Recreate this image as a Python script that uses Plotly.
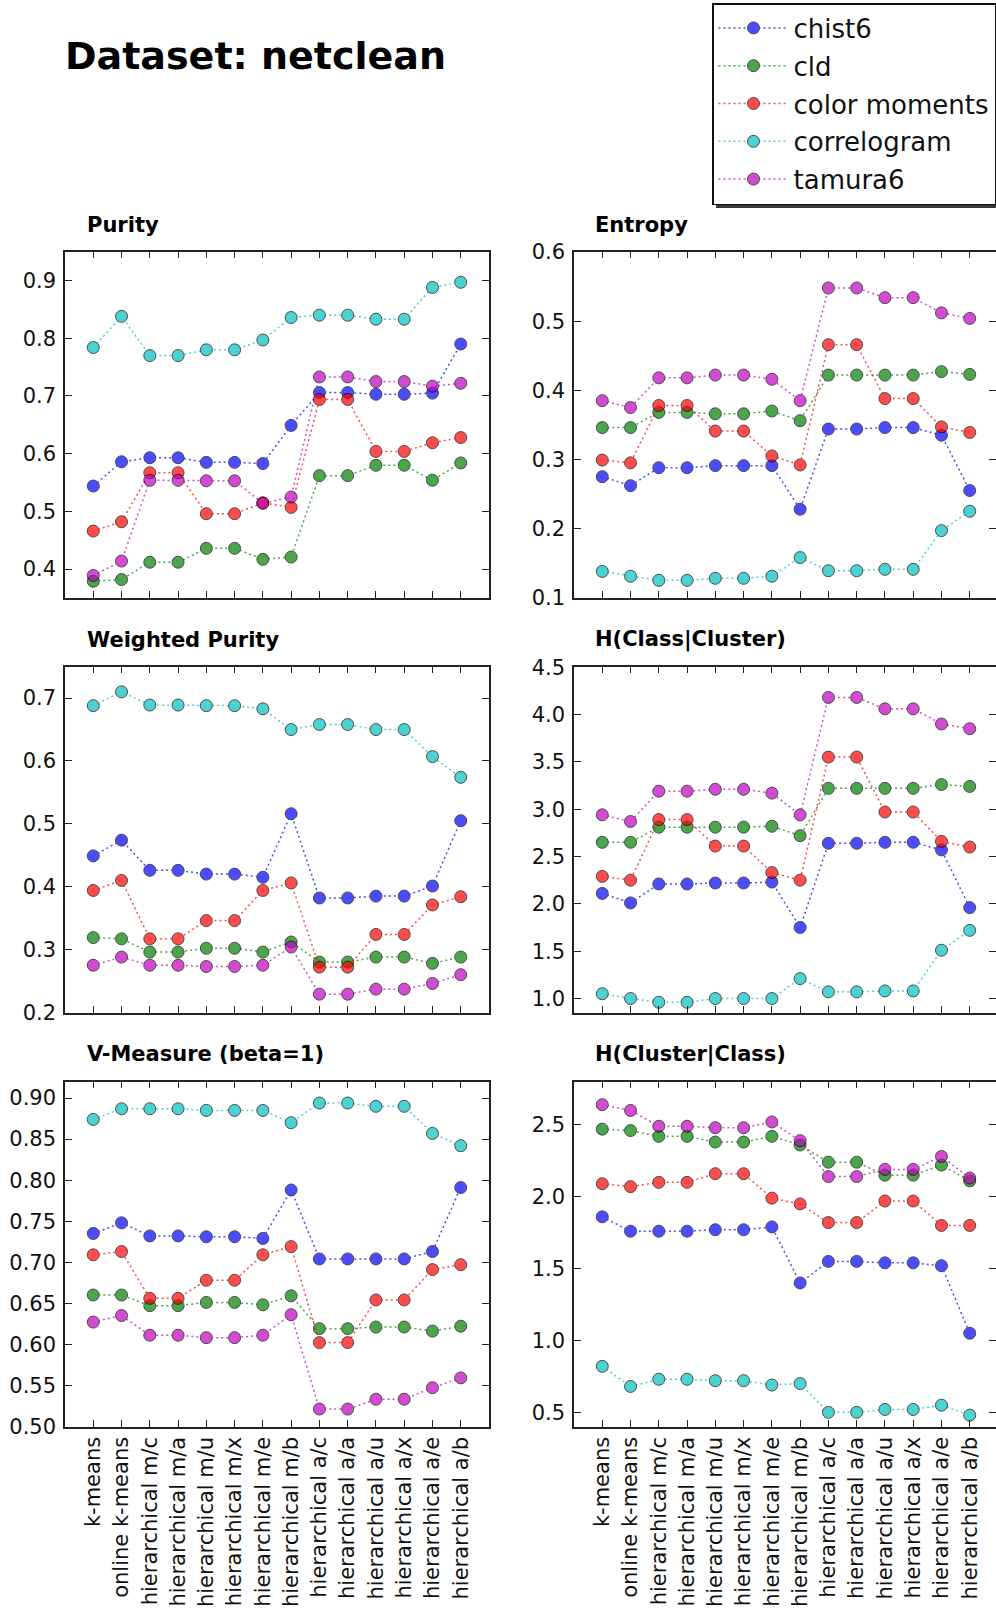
import plotly.graph_objects as go

W, H = 996, 1609

categories = ["k-means", "online k-means", "hierarchical m/c", "hierarchical m/a",
              "hierarchical m/u", "hierarchical m/x", "hierarchical m/e", "hierarchical m/b",
              "hierarchical a/c", "hierarchical a/a", "hierarchical a/u", "hierarchical a/x",
              "hierarchical a/e", "hierarchical a/b"]

series_names = ["chist6", "cld", "color moments", "correlogram", "tamura6"]
series_colors = ["#0000ff", "#008000", "#ff0000", "#00bfbf", "#bf00bf"]

# Purity
purity_chist6 = [0.544, 0.586, 0.593, 0.593, 0.585, 0.585, 0.583, 0.649, 0.706, 0.706, 0.703, 0.703, 0.705, 0.790]
purity_cld = [0.379, 0.382, 0.412, 0.412, 0.436, 0.436, 0.417, 0.421, 0.562, 0.562, 0.580, 0.580, 0.554, 0.584]
purity_colormoments = [0.466, 0.482, 0.567, 0.567, 0.496, 0.496, 0.515, 0.507, 0.694, 0.694, 0.604, 0.604, 0.619, 0.628]
purity_correlogram = [0.784, 0.838, 0.770, 0.770, 0.780, 0.780, 0.797, 0.836, 0.840, 0.840, 0.833, 0.833, 0.888, 0.897]
purity_tamura6 = [0.389, 0.414, 0.554, 0.554, 0.553, 0.553, 0.514, 0.525, 0.733, 0.733, 0.725, 0.725, 0.717, 0.722]

# Entropy
entropy_chist6 = [0.275, 0.262, 0.288, 0.288, 0.291, 0.291, 0.291, 0.228, 0.344, 0.344, 0.346, 0.346, 0.335, 0.255]
entropy_cld = [0.346, 0.346, 0.368, 0.368, 0.366, 0.366, 0.370, 0.356, 0.422, 0.422, 0.422, 0.422, 0.427, 0.423]
entropy_colormoments = [0.299, 0.295, 0.378, 0.378, 0.341, 0.341, 0.305, 0.292, 0.466, 0.466, 0.388, 0.388, 0.347, 0.339]
entropy_correlogram = [0.138, 0.131, 0.125, 0.125, 0.128, 0.128, 0.131, 0.158, 0.139, 0.139, 0.141, 0.141, 0.197, 0.225]
entropy_tamura6 = [0.385, 0.375, 0.418, 0.418, 0.422, 0.422, 0.416, 0.385, 0.548, 0.548, 0.534, 0.534, 0.512, 0.504]

# Weighted Purity
wpurity_chist6 = [0.449, 0.474, 0.426, 0.426, 0.420, 0.420, 0.415, 0.516, 0.382, 0.382, 0.385, 0.385, 0.401, 0.505]
wpurity_cld = [0.319, 0.317, 0.296, 0.296, 0.302, 0.302, 0.296, 0.312, 0.280, 0.280, 0.288, 0.288, 0.278, 0.288]
wpurity_colormoments = [0.394, 0.410, 0.317, 0.317, 0.346, 0.346, 0.394, 0.406, 0.272, 0.272, 0.324, 0.324, 0.371, 0.384]
wpurity_correlogram = [0.688, 0.710, 0.689, 0.689, 0.688, 0.688, 0.683, 0.650, 0.658, 0.658, 0.650, 0.650, 0.607, 0.574]
wpurity_tamura6 = [0.275, 0.288, 0.275, 0.275, 0.273, 0.273, 0.275, 0.304, 0.229, 0.229, 0.237, 0.237, 0.246, 0.260]

# H(Class|Cluster)
hcc_chist6 = [2.11, 2.01, 2.21, 2.21, 2.22, 2.22, 2.23, 1.75, 2.64, 2.64, 2.65, 2.65, 2.57, 1.96]
hcc_cld = [2.65, 2.65, 2.81, 2.81, 2.81, 2.81, 2.82, 2.72, 3.22, 3.22, 3.22, 3.22, 3.26, 3.24]
hcc_colormoments = [2.29, 2.25, 2.89, 2.89, 2.61, 2.61, 2.33, 2.25, 3.55, 3.55, 2.97, 2.97, 2.66, 2.60]
hcc_correlogram = [1.05, 1.00, 0.96, 0.96, 1.00, 1.00, 1.00, 1.21, 1.07, 1.07, 1.08, 1.08, 1.51, 1.72]
hcc_tamura6 = [2.94, 2.87, 3.19, 3.19, 3.21, 3.21, 3.17, 2.94, 4.18, 4.18, 4.06, 4.06, 3.90, 3.85]

# V-Measure (beta=1)
vm_chist6 = [0.735, 0.748, 0.732, 0.732, 0.731, 0.731, 0.729, 0.788, 0.704, 0.704, 0.704, 0.704, 0.713, 0.791]
vm_cld = [0.660, 0.660, 0.647, 0.647, 0.651, 0.651, 0.648, 0.659, 0.619, 0.619, 0.621, 0.621, 0.616, 0.622]
vm_colormoments = [0.709, 0.713, 0.656, 0.656, 0.678, 0.678, 0.709, 0.719, 0.602, 0.602, 0.654, 0.654, 0.691, 0.697]
vm_correlogram = [0.874, 0.887, 0.887, 0.887, 0.885, 0.885, 0.885, 0.870, 0.894, 0.894, 0.890, 0.890, 0.857, 0.842]
vm_tamura6 = [0.627, 0.635, 0.611, 0.611, 0.608, 0.608, 0.611, 0.636, 0.521, 0.521, 0.533, 0.533, 0.547, 0.559]

# H(Cluster|Class)
hcl_chist6 = [1.86, 1.76, 1.76, 1.76, 1.77, 1.77, 1.79, 1.40, 1.55, 1.55, 1.54, 1.54, 1.52, 1.05]
hcl_cld = [2.47, 2.46, 2.42, 2.42, 2.38, 2.38, 2.42, 2.36, 2.24, 2.24, 2.15, 2.15, 2.22, 2.11]
hcl_colormoments = [2.09, 2.07, 2.10, 2.10, 2.16, 2.16, 1.99, 1.95, 1.82, 1.82, 1.97, 1.97, 1.80, 1.80]
hcl_correlogram = [0.82, 0.68, 0.73, 0.73, 0.72, 0.72, 0.69, 0.70, 0.50, 0.50, 0.52, 0.52, 0.55, 0.48]
hcl_tamura6 = [2.64, 2.60, 2.49, 2.49, 2.48, 2.48, 2.52, 2.39, 2.14, 2.14, 2.19, 2.19, 2.28, 2.13]

panels = [
    ("Purity", [purity_chist6, purity_cld, purity_colormoments, purity_correlogram, purity_tamura6],
     [0.35, 0.95], 0.1, ".1f"),
    ("Entropy", [entropy_chist6, entropy_cld, entropy_colormoments, entropy_correlogram, entropy_tamura6],
     [0.0995, 0.6005], 0.1, ".1f"),
    ("Weighted Purity", [wpurity_chist6, wpurity_cld, wpurity_colormoments, wpurity_correlogram, wpurity_tamura6],
     [0.1995, 0.75], 0.1, ".1f"),
    ("H(Class|Cluster)", [hcc_chist6, hcc_cld, hcc_colormoments, hcc_correlogram, hcc_tamura6],
     [0.85, 4.505], 0.5, ".1f"),
    ("V-Measure (beta=1)", [vm_chist6, vm_cld, vm_colormoments, vm_correlogram, vm_tamura6],
     [0.4995, 0.92], 0.05, ".2f"),
    ("H(Cluster|Class)", [hcl_chist6, hcl_cld, hcl_colormoments, hcl_correlogram, hcl_tamura6],
     [0.4, 2.8], 0.5, ".1f"),
]

# layout geometry (pixels)
col_x = [(65, 489), (574, 996)]
row_y = [(251.7, 598), (666.7, 1012.7), (1081.7, 1426.7)]
px_per_cat = (489 - 65) / 15.0

fig = go.Figure()
FONT = "DejaVu Sans"
annotations = []

for i, (title, series, yrange, dtick, fmt) in enumerate(panels):
    r, c = divmod(i, 2)
    n = i + 1
    xa = "x" if n == 1 else f"x{n}"
    ya = "y" if n == 1 else f"y{n}"
    for s_idx, vals in enumerate(series):
        fig.add_trace(go.Scatter(
            x=list(range(len(categories))), y=vals,
            xaxis=xa, yaxis=ya,
            name=series_names[s_idx],
            legendgroup=series_names[s_idx],
            showlegend=(i == 0),
            mode="lines+markers",
            opacity=0.7,
            line=dict(color=series_colors[s_idx], width=1.5, dash="2px,3px"),
            marker=dict(size=12, color=series_colors[s_idx],
                        line=dict(color="#000000", width=1)),
        ))
    x0, x1 = col_x[c]
    y0, y1 = row_y[r]
    xmax = -1 + (x1 - x0) / px_per_cat
    xkey = "xaxis" if n == 1 else f"xaxis{n}"
    ykey = "yaxis" if n == 1 else f"yaxis{n}"
    fig.layout[xkey] = dict(
        domain=[x0 / W, x1 / W], anchor=ya, range=[-1, xmax], automargin=False,
        tickmode="array", tickvals=list(range(len(categories))), ticktext=categories,
        showticklabels=(r == 2), tickangle=-90,
        ticks="inside", ticklen=7, tickwidth=1, tickcolor="#222",
        showline=True, linecolor="#222", linewidth=1.5, mirror="ticks",
        showgrid=False, zeroline=False,
        tickfont=dict(family=FONT, size=21, color="#111"),
    )
    fig.layout[ykey] = dict(
        domain=[1 - y1 / H, 1 - y0 / H], anchor=xa, range=yrange, automargin=False,
        tick0=0, dtick=dtick, tickformat=fmt,
        ticks="inside", ticklen=7, tickwidth=1, tickcolor="#222",
        showline=True, linecolor="#222", linewidth=1.5, mirror="ticks",
        showgrid=False, zeroline=False, ticklabelstandoff=3,
        tickfont=dict(family=FONT, size=21, color="#111"),
    )
    tx = 85 if c == 0 else 593
    ty = [225, 640, 1054][r]
    annotations.append(dict(
        text=f"<b>{title}</b>", xref="paper", yref="paper",
        x=tx / W, y=1 - ty / H, xanchor="left", yanchor="middle",
        showarrow=False, font=dict(family=FONT, size=21, color="#000"),
    ))

annotations.append(dict(
    text="<b>Dataset: netclean</b>", xref="paper", yref="paper",
    x=63 / W, y=1 - 56 / H, xanchor="left", yanchor="middle",
    showarrow=False, font=dict(family=FONT, size=38, color="#000"),
))

# legend drop shadow
shapes = [dict(type="rect", xref="paper", yref="paper", layer="below",
               x0=716 / W, x1=1.0, y0=1 - 208 / H, y1=1 - 8 / H,
               fillcolor="#3a3a3a", line=dict(width=0))]

fig.update_layout(
    width=W, height=H,
    margin=dict(l=0, r=0, t=0, b=0, autoexpand=False),
    paper_bgcolor="white", plot_bgcolor="white",
    annotations=annotations,
    shapes=shapes,
    legend=dict(
        x=712 / W, y=1 - 3 / H, xanchor="left", yanchor="top",
        bgcolor="white", bordercolor="#111", borderwidth=1.5,
        font=dict(family=FONT, size=26, color="#111"),
        itemwidth=70, tracegroupgap=1,
    ),
    showlegend=True,
)

fig.write_html("out.html")
